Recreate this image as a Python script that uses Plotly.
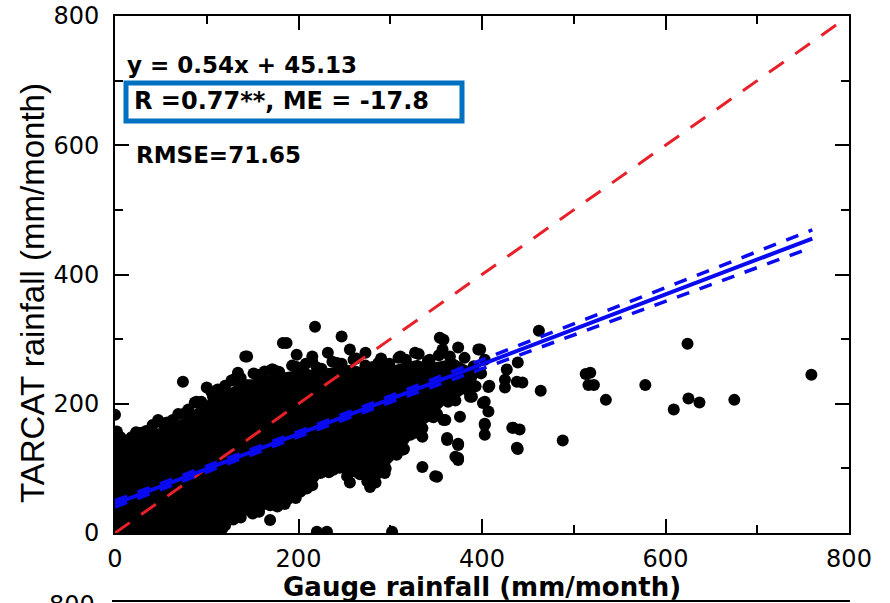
import plotly.graph_objects as go

# ---------------- data ----------------
# dense core of the scatter cloud (outline of the solid black region)
core_x = [0, 0, 10, 20, 30, 40, 50, 60, 70, 80, 90, 100, 110, 120, 130, 140, 150, 160, 170, 180,
          190, 200, 210, 220, 230, 240, 250, 260, 270, 280, 290, 300, 310, 320, 330, 340, 350, 360,
          370, 380, 390, 395, 390, 380, 370, 360, 350, 345, 335, 325, 315, 305, 295, 285, 275, 265,
          255, 245, 235, 225, 218, 210, 200, 190, 180, 170, 160, 150, 140, 130, 120, 110]
core_y = [0, 130, 138, 145, 150, 160, 163, 168, 175, 183, 195, 205, 212, 220, 228, 238, 238, 242, 245, 248,
          250, 252, 254, 250, 255, 256, 260, 260, 256, 252, 258, 258, 262, 265, 268, 262, 265, 268,
          270, 262, 255, 240, 225, 215, 205, 200, 185, 175, 165, 150, 130, 115, 100, 85, 80, 85,
          88, 95, 95, 88, 75, 62, 55, 48, 42, 38, 35, 30, 25, 15, 8, 0]

# individual points (gauge, TARCAT) in mm/month
gauge = [0, 2, 9, 18, 29, 41, 52, 63, 74, 80, 89, 100, 107, 112, 120, 129, 134, 142, 144, 155,
         163, 172, 183, 187, 177, 198, 198, 208, 215, 218, 220, 232, 242, 247, 256, 260, 273, 281,
         290, 299, 311, 327, 343, 354, 357, 358, 374, 396, 398, 403, 462,
         303, 303, 291, 291, 294, 284, 278, 283, 289, 314, 322, 335, 322, 340, 345, 335, 351, 358,
         362, 374, 374, 376, 387, 403, 407, 403, 403, 407, 425, 425, 427, 438, 434, 438, 349, 360,
         362, 374, 371, 374, 389, 401, 408, 403, 439, 433, 441, 439, 444, 464, 488, 513, 518, 516,
         522, 535, 578, 624, 625, 637, 609, 675, 759,
         107, 169, 202, 224, 238, 256, 264, 220, 231, 302, 136, 150, 185, 120,
         0, 6, 13, 23, 34, 47, 57, 69, 77, 87, 94, 105, 115, 127, 137, 151, 159, 171, 179, 193,
         203, 215, 225, 237, 247, 263, 273, 287, 295, 309, 317, 331, 341, 353, 365, 381, 391,
         399, 393, 385, 371, 363, 351, 347, 335, 327, 315, 307, 295, 287, 275, 267, 253, 245, 233,
         225, 215, 209, 197, 189, 177, 169, 157, 149, 137, 129, 117, 113]
tarcat = [183, 157, 133, 148, 155, 167, 170, 175, 234, 191, 203, 225, 210, 222, 228, 237, 248, 273, 273, 245,
          250, 253, 294, 294, 250, 276, 257, 262, 273, 319, 256, 279, 263, 304, 284, 268, 279, 257,
          270, 262, 273, 279, 268, 302, 284, 299, 287, 284, 284, 268, 313,
          140, 129, 118, 102, 93, 78, 71, 140, 164, 129, 152, 149, 180, 191, 190, 102, 87, 175,
          147, 136, 116, 180, 211, 203, 188, 167, 152, 226, 237, 225, 253, 234, 163, 132, 88, 175,
          144, 138, 118, 113, 211, 201, 228, 169, 130, 163, 160, 264, 233, 220, 143, 246, 248, 229,
          229, 206, 229, 293, 208, 202, 191, 206, 245,
          9, 20, 64, 93, 98, 78, 124, 2, 2, 2, 36, 30, 45, 12,
          136, 148, 142, 156, 158, 175, 171, 184, 186, 202, 203, 218, 219, 236, 240, 247, 243, 253, 249, 259,
          255, 265, 254, 265, 262, 270, 259, 263, 261, 271, 268, 277, 266, 275, 273, 271, 258,
          247, 227, 220, 205, 203, 184, 179, 162, 155, 130, 121, 100, 93, 80, 91, 88, 101, 94,
          95, 74, 69, 54, 53, 41, 43, 33, 36, 24, 21, 7, 6]

# 1:1 line
one_to_one = [0, 790]

# regression y = 0.54x + 45.13 and its confidence band
fit_slope = 0.54
fit_intercept = 45.13
fit_x = [0, 760]
band_x = [0, 100, 200, 300, 400, 500, 600, 700, 760]
band_upper = [50, 103, 157, 212, 268, 324, 380, 436, 469]
band_lower = [40, 95, 149, 202, 254, 306, 358, 410, 442]

x_ticks = [0, 200, 400, 600, 800]
y_ticks = [0, 200, 400, 600, 800]

# ---------------- figure ----------------
fig = go.Figure()

fig.add_trace(go.Scatter(x=core_x, y=core_y, mode="lines", fill="toself",
                         fillcolor="black", line=dict(width=0, color="black"),
                         hoverinfo="skip", showlegend=False))
fig.add_trace(go.Scatter(x=gauge, y=tarcat, mode="markers",
                         marker=dict(size=12, color="black", line=dict(width=0)),
                         showlegend=False))
fig.add_trace(go.Scatter(x=one_to_one, y=one_to_one, mode="lines",
                         line=dict(color="#e8202a", width=3, dash="18px,14px"),
                         showlegend=False))
fig.add_trace(go.Scatter(x=band_x, y=band_upper, mode="lines",
                         line=dict(color="#0a0af0", width=3.5, dash="13px,11px"),
                         showlegend=False))
fig.add_trace(go.Scatter(x=band_x, y=band_lower, mode="lines",
                         line=dict(color="#0a0af0", width=3.5, dash="13px,11px"),
                         showlegend=False))
fig.add_trace(go.Scatter(x=fit_x, y=[fit_slope * v + fit_intercept for v in fit_x], mode="lines",
                         line=dict(color="#0a0af0", width=4),
                         showlegend=False))

axis_common = dict(
    showgrid=False, zeroline=False, showline=True, linecolor="black", linewidth=2,
    mirror="ticks", ticks="inside", ticklen=14, tickwidth=2, tickcolor="black",
    tickfont=dict(family="DejaVu Sans", size=24, color="black"),
    minor=dict(ticks="inside", ticklen=8, tickwidth=2, tickcolor="black", dtick=100),
    automargin=False,
)
fig.update_xaxes(range=[0, 800], tickvals=x_ticks, ticktext=[str(v) for v in x_ticks],
                 ticklabelstandoff=3, **axis_common)
fig.update_yaxes(range=[0, 800], tickvals=y_ticks, ticktext=[str(v) for v in y_ticks],
                 ticklabelstandoff=9, **axis_common)

bold = dict(family="DejaVu Sans", size=23, color="black")
ann = [
    dict(text="<b>y = 0.54x + 45.13</b>", x=(125 - 115) / 734, y=(533 - 65) / 517,
         xanchor="left", yanchor="middle", font=bold),
    dict(text="<b>R =0.77**, ME = -17.8</b>", x=(132 - 115) / 734, y=(533 - 101) / 517,
         xanchor="left", yanchor="middle", font=dict(family="DejaVu Sans", size=24, color="black")),
    dict(text="<b>RMSE=71.65</b>", x=(134 - 115) / 734, y=(533 - 155) / 517,
         xanchor="left", yanchor="middle", font=bold),
    dict(text="<b>Gauge rainfall (mm/month)</b>", x=0.5, y=(533 - 587) / 517,
         xanchor="center", yanchor="middle",
         font=dict(family="DejaVu Sans", size=26, color="black")),
    dict(text="TARCAT rainfall (mm/month)", x=(32 - 115) / 734, y=(533 - 293) / 517,
         xanchor="center", yanchor="middle", textangle=-90,
         font=dict(family="Liberation Sans, Arial", size=33, color="black")),
    dict(text="800", x=(97 - 115) / 734, y=(533 - 605) / 517, xanchor="right", yanchor="middle",
         font=dict(family="DejaVu Sans", size=24, color="black")),
]
for a in ann:
    a.update(xref="paper", yref="paper", showarrow=False)
fig.update_layout(annotations=ann)

fig.update_layout(shapes=[
    dict(type="rect", xref="paper", yref="paper",
         x0=(126 - 115) / 734, x1=(462 - 115) / 734, y0=(533 - 121) / 517, y1=(533 - 83) / 517,
         line=dict(color="#0070c0", width=5)),
    dict(type="line", xref="paper", yref="paper",
         x0=(112 - 115) / 734, x1=(850 - 115) / 734, y0=(533 - 601) / 517, y1=(533 - 601) / 517,
         line=dict(color="black", width=2)),
])

fig.update_layout(
    width=890, height=603,
    margin=dict(l=115, r=41, t=16, b=70),
    paper_bgcolor="white", plot_bgcolor="white",
    showlegend=False,
)

fig.write_html("out.html")
